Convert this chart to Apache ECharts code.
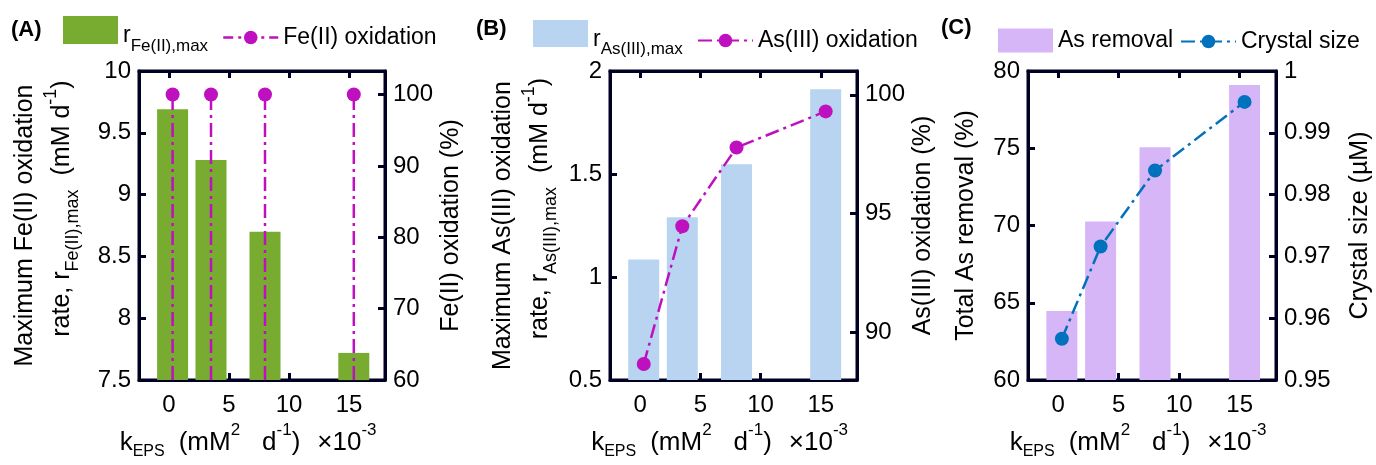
<!DOCTYPE html>
<html lang="en">
  <head>
    <meta charset="UTF-8" />
    <title>kEPS effects</title>
    <script src="https://cdn.jsdelivr.net/npm/echarts@6/dist/echarts.min.js"></script>
    <style>
      body { margin: 0; background: #fff; }
    </style>
  </head>

  <body>
    <div id="main" style="width: 1376px; height: 465px"></div>
    <script type="text/javascript">
      // values (k_EPS in units of 1e-3 mM^2 d^-1)
      const kEps = [0.3, 3.5, 8.0, 15.4];
      const feRate = [9.69, 9.28, 8.7, 7.72];
      const feOxidation = [100, 100, 100, 100];
      const asRate = [1.085, 1.29, 1.547, 1.912];
      const asOxidation = [88.68, 94.47, 97.78, 99.3];
      const asRemoval = [64.47, 70.26, 75.07, 79.1];
      const crystalSize = [0.9567, 0.9716, 0.9839, 0.995];

      // tick labels
      const xTicks = [0, 5, 10, 15];
      const feRateTicks = [7.5, 8, 8.5, 9, 9.5, 10];
      const feOxTicks = [60, 70, 80, 90, 100];
      const asRateTicks = [0.5, 1, 1.5, 2];
      const asOxTicks = [90, 95, 100];
      const removalTicks = [60, 65, 70, 75, 80];
      const sizeTicks = [0.95, 0.96, 0.97, 0.98, 0.99, 1];

      const FONT = "Liberation Sans";
      const INK = "#000022";
      const magenta = "#BF10BF";
      const dashDot = [14, 5, 3, 5];

      // rich text pieces for the axis names (sub/superscripts)
      const base = { verticalAlign: "top", fontFamily: FONT, color: "#000" };
      const rich = {
        n: Object.assign({ fontSize: 26, lineHeight: 30, padding: [8, 0, 0, 0] }, base),
        g: Object.assign({ fontSize: 26, lineHeight: 30, padding: [8, 0, 0, 14] }, base),
        h: Object.assign({ fontSize: 26, lineHeight: 30, padding: [8, 0, 0, 22] }, base),
        k: Object.assign({ fontSize: 26, lineHeight: 30, padding: [8, 0, 0, 17] }, base),
        b: Object.assign({ fontSize: 16, lineHeight: 19, padding: [22, 0, 0, 0] }, base),
        p: Object.assign({ fontSize: 17, lineHeight: 20, padding: [0, 0, 0, 0] }, base),
        w: Object.assign({ fontSize: 10, lineHeight: 12, padding: [0, 0, 0, 0] }, base),
        // y-axis names
        L: Object.assign({ fontSize: 25, lineHeight: 29, padding: [0, 0, 2, 0] }, base),
        Y: Object.assign({ fontSize: 25, lineHeight: 29, padding: [8, 0, 0, 0] }, base),
        Z: Object.assign({ fontSize: 25, lineHeight: 29, padding: [8, 0, 0, 34] }, base),
        G: Object.assign({ fontSize: 25, lineHeight: 29, padding: [8, 0, 0, 14] }, base),
        B: Object.assign({ fontSize: 18, lineHeight: 21, padding: [22, 0, 0, 0] }, base),
        P: Object.assign({ fontSize: 18, lineHeight: 21, padding: [0, 0, 0, 0] }, base),
      };

      const pad = "\u00A0".repeat(10);
      const xName = "{n|k}{b|EPS}{g|(mM}{p|2}{h|d}{p|-1}{n|)}{k|×10}{p|-3}{w|" + pad + "}";
      const yNameFe = "{L|Maximum Fe(II) oxidation}\n{Z|rate, r}{B|Fe(II),max}{G|(mM d}{P|-1}{Y|)}";
      const yNameAs = "{L|Maximum As(III) oxidation}\n{Z|rate, r}{B|As(III),max}{G|(mM d}{P|-1}{Y|)}";

      // plot boxes, with a border as the MATLAB-style frame
      const grids = [
        { left: 139, top: 71, width: 246, height: 311 },
        { left: 610, top: 71, width: 247, height: 311 },
        { left: 1028, top: 71, width: 248, height: 311 },
      ].map((g) => Object.assign({ show: true, borderColor: INK, borderWidth: 3 }, g));

      const line = () => ({ show: true, onZero: false, lineStyle: { color: INK, width: 3 } });
      const ticks = (values) => ({
        show: true, inside: true, length: 7, customValues: values,
        lineStyle: { color: INK, width: 3 },
      });
      const labels = (values, margin) => ({
        show: true, customValues: values, margin: margin,
        color: "#000", fontSize: 24, fontFamily: FONT,
      });

      let xAxes = [];
      grids.forEach((g, i) => {
        xAxes.push({
          type: "value", gridIndex: i, min: -2.5, max: 18, position: "bottom",
          axisLine: line(), splitLine: { show: false },
          axisTick: ticks(xTicks), axisLabel: labels(xTicks, 13),
          name: xName, nameLocation: "middle", nameGap: 41,
          nameTextStyle: { rich: rich },
        });
        // top edge of the box
        xAxes.push({
          type: "value", gridIndex: i, min: -2.5, max: 18, position: "top",
          axisLine: line(), splitLine: { show: false },
          axisTick: ticks(xTicks), axisLabel: { show: false },
        });
      });

      function yAxis(grid, pos, min, max, tickValues, name, gap, nameRich) {
        return {
          type: "value", gridIndex: grid, position: pos, min: min, max: max,
          axisLine: line(), splitLine: { show: false },
          axisTick: ticks(tickValues), axisLabel: labels(tickValues, 8),
          name: name, nameLocation: "middle", nameRotate: 90, nameGap: gap,
          nameTextStyle: nameRich
            ? { rich: rich }
            : { fontSize: 25, lineHeight: 29, fontFamily: FONT, color: "#000" },
        };
      }

      const yAxes = [
        yAxis(0, "left", 7.5, 10, feRateTicks, yNameFe, 68, true),
        yAxis(0, "right", 60, 103.3, feOxTicks, "Fe(II) oxidation (%)", 45, false),
        yAxis(1, "left", 0.5, 2, asRateTicks, yNameAs, 61, true),
        yAxis(1, "right", 88, 101, asOxTicks, "As(III) oxidation (%)", 29, false),
        yAxis(2, "left", 60, 80, removalTicks, "Total As removal (%)", 47, false),
        yAxis(2, "right", 0.95, 1, sizeTicks, "Crystal size (µM)", 70, false),
      ];

      const zip = (xs, ys) => xs.map((x, i) => [x, ys[i]]);

      function barSeries(name, grid, values, color) {
        return {
          name: name, type: "bar", xAxisIndex: grid * 2, yAxisIndex: grid * 2,
          data: zip(kEps, values), barWidth: 31, itemStyle: { color: color }, z: 2,
        };
      }

      function lineSeries(name, grid, values, color, showLine) {
        return {
          name: name, type: "line", xAxisIndex: grid * 2, yAxisIndex: grid * 2 + 1,
          data: zip(kEps, values), symbol: "circle", symbolSize: 14,
          itemStyle: { color: color },
          lineStyle: showLine
            ? { color: color, width: 2.5, type: dashDot }
            : { color: color, width: 0, opacity: 0 },
          z: 4,
        };
      }

      // Fe(II) oxidation drawn as stems from the axis floor up to each point
      const stems = kEps.map((x, i) => ({
        type: "line", xAxisIndex: 0, yAxisIndex: 1, silent: true, symbol: "none",
        data: [[x, 60], [x, feOxidation[i]]],
        lineStyle: { color: magenta, width: 2.5, type: dashDot }, z: 3,
      }));

      const series = [
        barSeries("rFe", 0, feRate, "#77AC30"),
        lineSeries("Fe(II) oxidation", 0, feOxidation, magenta, false),
        ...stems,
        barSeries("rAs", 1, asRate, "#B8D4F1"),
        lineSeries("As(III) oxidation", 1, asOxidation, magenta, true),
        barSeries("As removal", 2, asRemoval, "#D7B6F8"),
        lineSeries("Crystal size", 2, crystalSize, "#0072BD", true),
      ];

      const legendRich = {
        r: Object.assign({ fontSize: 23, lineHeight: 27, padding: [8, 0, 0, 0] }, base),
        s: Object.assign({ fontSize: 17, lineHeight: 20, padding: [21, 0, 0, 0] }, base),
      };
      const legendText = { fontSize: 23, lineHeight: 27, fontFamily: FONT, color: "#000", rich: legendRich };
      const legendFmt = (name) =>
        name === "rFe" ? "{r|r}{s|Fe(II),max}" : name === "rAs" ? "{r|r}{s|As(III),max}" : name;

      function legend(data, left, top, w, h) {
        return {
          data: data, left: left, top: top, itemWidth: w, itemHeight: h, padding: 0,
          selectedMode: false, textStyle: legendText, formatter: legendFmt,
        };
      }

      const legends = [
        legend([{ name: "rFe", icon: "rect" }], 63, 16, 55, 28),
        legend([{ name: "Fe(II) oxidation",
          lineStyle: { width: 2.5, opacity: 1, type: [10, 5, 3, 5], color: magenta } }], 222, 24, 55, 17),
        legend([{ name: "rAs", icon: "rect" }], 533, 20, 55, 27),
        legend(["As(III) oxidation"], 697, 27, 55, 17),
        legend([{ name: "As removal", icon: "rect" }], 998, 27, 55, 24),
        legend(["Crystal size"], 1180, 28, 55, 17),
      ];

      const panelTitle = (text, left, top) => ({
        text: text, left: left, top: top, padding: 0,
        textStyle: { fontSize: 22, fontWeight: "bold", fontFamily: FONT, color: "#000" },
      });

      let options = {
        animation: false,
        title: [panelTitle("(A)", 11, 19), panelTitle("(B)", 476, 18), panelTitle("(C)", 941, 17)],
        legend: legends,
        grid: grids,
        xAxis: xAxes,
        yAxis: yAxes,
        series: series,
      };

      let myChart = echarts.init(document.getElementById("main"));
      myChart.setOption(options);
    </script>
  </body>
</html>
